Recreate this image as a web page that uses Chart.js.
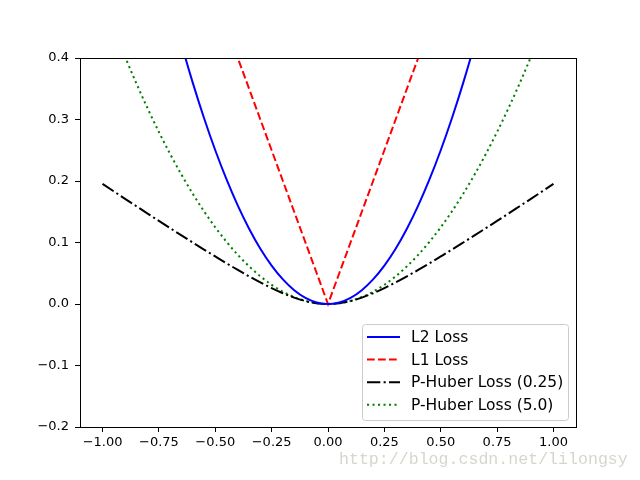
<!DOCTYPE html>
<html>
<head>
<meta charset="utf-8">
<script src="https://cdn.jsdelivr.net/npm/chart.js@4/dist/chart.umd.min.js"></script>
<style>
html,body{margin:0;padding:0;background:#fff;}
canvas{display:block;}
</style>
</head>
<body>
<canvas id="c" width="640" height="480"></canvas>
<script>
const xValues = [-1,-0.95,-0.9,-0.85,-0.8,-0.75,-0.7,-0.65,-0.6,-0.55,-0.5,-0.45,-0.4,-0.35,-0.3,-0.25,-0.2,-0.15,-0.1,-0.05,0,
  0.05,0.1,0.15,0.2,0.25,0.3,0.35,0.4,0.45,0.5,0.55,0.6,0.65,0.7,0.75,0.8,0.85,0.9,0.95,1];
const l2Values = [1,0.9025,0.81,0.7225,0.64,0.5625,0.49,0.4225,0.36,0.3025,0.25,0.2025,0.16,0.1225,0.09,0.0625,0.04,0.0225,0.01,0.0025,0,
  0.0025,0.01,0.0225,0.04,0.0625,0.09,0.1225,0.16,0.2025,0.25,0.3025,0.36,0.4225,0.49,0.5625,0.64,0.7225,0.81,0.9025,1];
const l1Values = [1,0.95,0.9,0.85,0.8,0.75,0.7,0.65,0.6,0.55,0.5,0.45,0.4,0.35,0.3,0.25,0.2,0.15,0.1,0.05,0,
  0.05,0.1,0.15,0.2,0.25,0.3,0.35,0.4,0.45,0.5,0.55,0.6,0.65,0.7,0.75,0.8,0.85,0.9,0.95,1];
const huber025Values = [0.1952,0.1831,0.1710,0.1590,0.1470,0.1351,0.1233,0.1116,0.1000,0.0885,0.0773,0.0662,0.0554,0.0450,0.0351,0.0259,0.0175,0.0104,0.0048,0.0012,0,
  0.0012,0.0048,0.0104,0.0175,0.0259,0.0351,0.0450,0.0554,0.0662,0.0773,0.0885,0.1000,0.1116,0.1233,0.1351,0.1470,0.1590,0.1710,0.1831,0.1952];
const huber50Values = [0.4951,0.4473,0.4018,0.3587,0.3180,0.2797,0.2438,0.2104,0.1794,0.1508,0.1247,0.1011,0.0799,0.0612,0.0450,0.0312,0.0200,0.0113,0.0050,0.0012,0,
  0.0012,0.0050,0.0113,0.0200,0.0312,0.0450,0.0612,0.0799,0.1011,0.1247,0.1508,0.1794,0.2104,0.2438,0.2797,0.3180,0.3587,0.4018,0.4473,0.4951];
const seriesLabels = ["L2 Loss","L1 Loss","P-Huber Loss (0.25)","P-Huber Loss (5.0)"];
const xTickValues = [-1,-0.75,-0.5,-0.25,0,0.25,0.5,0.75,1];
const xTickLabels = ["\u22121.00","\u22120.75","\u22120.50","\u22120.25","0.00","0.25","0.50","0.75","1.00"];
const yTickValues = [-0.2,-0.1,0,0.1,0.2,0.3,0.4];
const yTickLabels = ["\u22120.2","\u22120.1","0.0","0.1","0.2","0.3","0.4"];
const watermark = "http://blog.csdn.net/lilongsy";

const toPts = ys => xValues.map((x,i)=>({x:x,y:ys[i]}));
const FONT = "'DejaVu Sans', sans-serif";

const framePlugin = {
  id:'frame',
  afterDraw(chart){
    const {ctx, chartArea:a} = chart;
    ctx.save();
    ctx.strokeStyle = '#000';
    ctx.lineWidth = 1;
    ctx.strokeRect(Math.round(a.left)+0.5, Math.round(a.top)+0.5, Math.round(a.right-a.left), Math.round(a.bottom-a.top));
    // legend
    const lx = 362.5, ly = 324.5, lw = 206, lh = 96, r = 3;
    ctx.beginPath();
    ctx.moveTo(lx+r, ly);
    ctx.lineTo(lx+lw-r, ly); ctx.quadraticCurveTo(lx+lw, ly, lx+lw, ly+r);
    ctx.lineTo(lx+lw, ly+lh-r); ctx.quadraticCurveTo(lx+lw, ly+lh, lx+lw-r, ly+lh);
    ctx.lineTo(lx+r, ly+lh); ctx.quadraticCurveTo(lx, ly+lh, lx, ly+lh-r);
    ctx.lineTo(lx, ly+r); ctx.quadraticCurveTo(lx, ly, lx+r, ly);
    ctx.closePath();
    ctx.fillStyle = 'rgba(255,255,255,0.8)';
    ctx.fill();
    ctx.strokeStyle = '#cccccc';
    ctx.stroke();
    chart.data.datasets.forEach((ds, i) => {
      const cy = 337 + i*22.6;
      ctx.save();
      ctx.strokeStyle = ds.borderColor;
      ctx.lineWidth = ds.borderWidth;
      ctx.setLineDash(ds.borderDash || []);
      ctx.beginPath();
      ctx.moveTo(367, cy); ctx.lineTo(400, cy);
      ctx.stroke();
      ctx.restore();
      ctx.fillStyle = '#000';
      ctx.font = "15.5px " + FONT;
      ctx.textBaseline = 'middle';
      ctx.textAlign = 'left';
      ctx.fillText(seriesLabels[i], 411, cy+1);
    });
    // watermark
    ctx.fillStyle = '#d6d6cc';
    ctx.font = "16.6px 'Liberation Mono', monospace";
    ctx.textBaseline = 'alphabetic';
    ctx.fillText(watermark, 339, 464);
    ctx.restore();
  }
};

const common = {pointRadius:0, borderWidth:2, fill:false, clip:0};
new Chart(document.getElementById('c'), {
  type:'line',
  data:{
    datasets:[
      Object.assign({label:seriesLabels[0], data:toPts(l2Values), borderColor:'#0000ff', cubicInterpolationMode:'monotone'}, common),
      Object.assign({label:seriesLabels[1], data:toPts(l1Values), borderColor:'#ff0000', borderDash:[7.7,3.3], tension:0}, common),
      Object.assign({label:seriesLabels[2], data:toPts(huber025Values), borderColor:'#000000', borderDash:[13.3,3.3,2.1,3.3], cubicInterpolationMode:'monotone'}, common),
      Object.assign({label:seriesLabels[3], data:toPts(huber50Values), borderColor:'#008000', borderDash:[2.1,3.4], cubicInterpolationMode:'monotone'}, common)
    ]
  },
  options:{
    responsive:false,
    animation:false,
    events:[],
    layout:{padding:{left:0,right:64,top:58,bottom:0}},
    plugins:{legend:{display:false}, tooltip:{enabled:false}},
    scales:{
      x:{
        type:'linear', min:-1.1, max:1.1,
        afterFit(s){ s.height = 53; },
        afterBuildTicks(s){ s.ticks = xTickValues.map(v=>({value:v})); },
        grid:{drawOnChartArea:false, tickLength:5, color:'#000', lineWidth:1},
        border:{display:false},
        ticks:{color:'#000', font:{family:FONT, size:13}, padding:3, maxRotation:0, autoSkip:false,
          callback:(v,i)=>xTickLabels[i]}
      },
      y:{
        type:'linear', min:-0.2, max:0.4,
        afterFit(s){ s.width = 80; },
        afterBuildTicks(s){ s.ticks = yTickValues.map(v=>({value:v})); },
        grid:{drawOnChartArea:false, tickLength:5, color:'#000', lineWidth:1},
        border:{display:false},
        ticks:{color:'#000', font:{family:FONT, size:13}, padding:6, autoSkip:false,
          callback:(v,i)=>yTickLabels[i]}
      }
    }
  },
  plugins:[framePlugin]
});
</script>
</body>
</html>
